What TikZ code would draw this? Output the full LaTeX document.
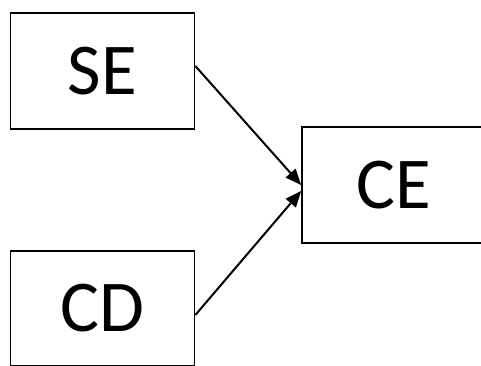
\documentclass[tikz,border=0pt]{standalone}
\usepackage{fontspec}
\setmainfont{Carlito}
\usetikzlibrary{arrows.meta}
\begin{document}
\begin{tikzpicture}[x=1pt,y=1pt,
  box/.style={draw=black, line width=1.7pt, minimum width=184pt, minimum height=116pt, inner sep=0pt, font=\fontsize{73}{80}\selectfont},
  conn/.style={line width=2pt, -{Triangle[length=16pt,width=13pt]}}]
\useasboundingbox (0,0) rectangle (481,365);
\clip (0,0) rectangle (481,365);
\node[box] (se) at (102.5,294) {SE};
\node[box] (ce) at (394,180) {CE};
\node[box, minimum height=115pt] (cd) at (102.5,56.5) {CD};
\draw[conn] ([yshift=5pt]se.east) -- ([yshift=0pt]ce.west);
\draw[conn] ([yshift=-6.5pt]cd.east) -- ([yshift=-6pt]ce.west);
\end{tikzpicture}
\end{document}
